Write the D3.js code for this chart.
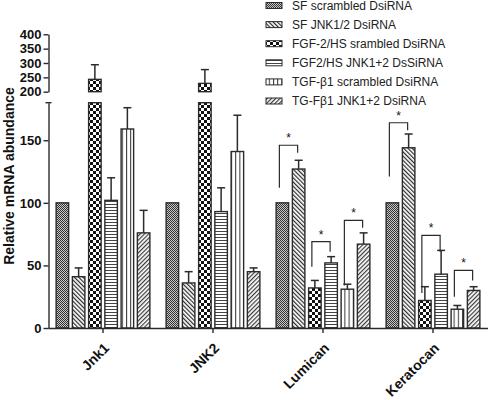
<!DOCTYPE html>
<html><head><meta charset="utf-8">
<script src="https://cdn.jsdelivr.net/npm/d3@7"></script>
<style>body{margin:0;background:#fff;} svg{display:block;font-family:Arial,"Liberation Sans",sans-serif;}</style>
</head><body>
<svg id="chart" width="492" height="400"></svg>
<script>
const categories = ["Jnk1", "JNK2", "Lumican", "Keratocan"];
const seriesNames = ["SF scrambled DsiRNA", "SF JNK1/2 DsiRNA", "FGF-2/HS srambled DsiRNA",
  "FGF2/HS JNK1+2 DsSiRNA", "TGF-\u03b21 scrambled DsiRNA", "TG-F\u03b21 JNK1+2 DsiRNA"];
// means per series across categories
const sfScrambled = [100, 100, 100, 100];
const sfJnk = [41, 36, 127, 144];
const fgfScrambled = [243, 229, 32, 22];
const fgfJnk = [102, 93, 52, 43];
const tgfScrambled = [159, 141, 31, 15];
const tgfJnk = [76, 45, 67, 30];
// error bar tops (mean + error)
const sfScrambledErr = [100, 100, 100, 100];
const sfJnkErr = [48, 45, 134, 155];
const fgfScrambledErr = [294, 277, 38, 33];
const fgfJnkErr = [120, 112, 57, 62];
const tgfScrambledErr = [176, 170, 35, 18];
const tgfJnkErr = [94, 48, 76, 33];
const lowerTicks = [0, 50, 100, 150];
const upperTicks = [200, 250, 300, 350, 400];
// significance brackets
const sigCategory = ["Lumican", "Lumican", "Lumican", "Keratocan", "Keratocan", "Keratocan"];
const sigLeft = [0, 2, 4, 0, 2, 4];
const sigRight = [1, 3, 5, 1, 3, 5];
const sigTop = [146, 69, 86, 164, 74, 46];
const sigLeftBottom = [112, 49, 34, 121, 28, 25];
const sigRightBottom = [140, 61, 80, 158, 61, 38];

const values = [sfScrambled, sfJnk, fgfScrambled, fgfJnk, tgfScrambled, tgfJnk];
const errs = [sfScrambledErr, sfJnkErr, fgfScrambledErr, fgfJnkErr, tgfScrambledErr, tgfJnkErr];

const svg = d3.select("#chart");
const ink = "#2b2b2b";

// patterns
const defs = svg.append("defs");
function pat(id, w, h, rot, bg) {
  const p = defs.append("pattern").attr("id", id).attr("patternUnits", "userSpaceOnUse")
    .attr("width", w).attr("height", h);
  if (rot) p.attr("patternTransform", `rotate(${rot})`);
  p.append("rect").attr("width", w).attr("height", h).attr("fill", bg || "#fff");
  return p;
}
let p = pat("p0", 2, 2, 0, "#c8c8c8");
p.append("rect").attr("x", 0).attr("y", 0).attr("width", 1).attr("height", 1).attr("fill", "#333");
p.append("rect").attr("x", 1).attr("y", 1).attr("width", 1).attr("height", 1).attr("fill", "#333");
p = pat("p1", 3, 3, -45);
p.append("rect").attr("width", 1.2).attr("height", 3).attr("fill", "#2a2a2a");
p = pat("p2", 6, 6);
p.append("rect").attr("x", 0).attr("y", 0).attr("width", 3).attr("height", 3).attr("fill", "#111");
p.append("rect").attr("x", 3).attr("y", 3).attr("width", 3).attr("height", 3).attr("fill", "#111");
p = pat("p3", 4, 3);
p.append("rect").attr("width", 4).attr("height", 1).attr("fill", "#444");
p = pat("p4", 4.2, 4);
p.append("rect").attr("width", 1).attr("height", 4).attr("fill", "#333");
p = pat("p5", 3, 3, 45);
p.append("rect").attr("width", 1.2).attr("height", 3).attr("fill", "#3a3a3a");

// scales
const x = d3.scaleBand().domain(categories).range([48, 488]);
const xs = d3.scaleBand().domain(d3.range(6)).range([0, x.bandwidth()]).paddingInner(0.23).paddingOuter(0.5);
const yL = d3.scaleLinear().domain([0, 180]).range([328, 102.7]);
const yU = d3.scaleLinear().domain([200, 400]).range([91.7, 34.3]);
const axisX = 48.5;

// bars
const gBars = svg.append("g");
categories.forEach((c, ci) => {
  values.forEach((vals, si) => {
    const v = vals[ci];
    const bx = x(c) + xs(si), bw = xs.bandwidth();
    const lowTop = Math.min(v, 180);
    gBars.append("rect").attr("x", bx).attr("y", yL(lowTop)).attr("width", bw)
      .attr("height", yL(0) - yL(lowTop)).attr("fill", `url(#p${si})`)
      .attr("stroke", ink).attr("stroke-width", 1.4);
    if (v > 200) {
      gBars.append("rect").attr("x", bx).attr("y", yU(v)).attr("width", bw)
        .attr("height", yU(200) - yU(v)).attr("fill", `url(#p${si})`)
        .attr("stroke", ink).attr("stroke-width", 1.4);
    }
    const e = errs[si][ci];
    if (e > v) {
      const y = (e > 200 ? yU : yL);
      const cx = bx + bw / 2;
      gBars.append("line").attr("x1", cx).attr("x2", cx).attr("y1", y(v)).attr("y2", y(e))
        .attr("stroke", ink).attr("stroke-width", 1.5);
      gBars.append("line").attr("x1", cx - 4).attr("x2", cx + 4).attr("y1", y(e)).attr("y2", y(e))
        .attr("stroke", ink).attr("stroke-width", 1.5);
    }
  });
});

// axes
function styleAxis(g) {
  g.selectAll("path,line").attr("stroke", ink).attr("stroke-width", 1.4);
  g.selectAll("text").attr("font-size", 13).attr("font-weight", "bold").attr("fill", "#111")
    .attr("font-family", "Arial, 'Liberation Sans', sans-serif");
}
const gyL = svg.append("g").attr("transform", `translate(${axisX},0)`)
  .call(d3.axisLeft(yL).tickValues(lowerTicks).tickSize(5).tickSizeOuter(0).tickPadding(2));
styleAxis(gyL);
gyL.append("line").attr("x1", -3).attr("x2", 3).attr("y1", yL(180)).attr("y2", yL(180))
  .attr("stroke", ink).attr("stroke-width", 1.4);
const gyU = svg.append("g").attr("transform", `translate(${axisX},0)`)
  .call(d3.axisLeft(yU).tickValues(upperTicks).tickSize(5).tickSizeOuter(0).tickPadding(2));
styleAxis(gyU);
const gx = svg.append("g").attr("transform", `translate(0,${yL(0)})`)
  .call(d3.axisBottom(x).tickSize(5).tickSizeOuter(0));
styleAxis(gx);
gx.select(".domain").attr("d", `M${axisX},0.5H488`);
gx.selectAll("text").attr("font-size", 14).attr("text-anchor", "end")
  .attr("x", 0).attr("y", 0).attr("dy", 0).attr("transform", "translate(7,21) rotate(-45)");

svg.append("text").attr("transform", `translate(13.5,176) rotate(-90)`)
  .attr("text-anchor", "middle").attr("font-size", 14).attr("font-weight", "bold").attr("fill", "#111")
  .text("Relative mRNA abundance");

// significance brackets
const gSig = svg.append("g");
sigCategory.forEach((c, i) => {
  const lx = x(c) + xs(sigLeft[i]) + xs.bandwidth() / 2 - 3;
  const rx = x(c) + xs(sigRight[i]) + xs.bandwidth() / 2 - 1;
  gSig.append("path")
    .attr("d", `M${lx},${yL(sigLeftBottom[i])}V${yL(sigTop[i])}H${rx}V${yL(sigRightBottom[i])}`)
    .attr("fill", "none").attr("stroke", ink).attr("stroke-width", 1.2);
  gSig.append("text").attr("x", (lx + rx) / 2).attr("y", yL(sigTop[i]) - 3)
    .attr("text-anchor", "middle").attr("font-size", 12).attr("fill", "#111").text("*");
});

// legend
const gLeg = svg.append("g");
seriesNames.forEach((n, i) => {
  const cy = 5.5 + i * 19.1;
  gLeg.append("rect").attr("x", 266).attr("y", cy - 3).attr("width", 16).attr("height", 6)
    .attr("fill", `url(#p${i})`).attr("stroke", ink).attr("stroke-width", 1);
  gLeg.append("text").attr("x", 292).attr("y", cy).attr("dy", "0.36em")
    .attr("font-size", 12).attr("fill", "#222").text(n);
});
</script>
</body></html>
